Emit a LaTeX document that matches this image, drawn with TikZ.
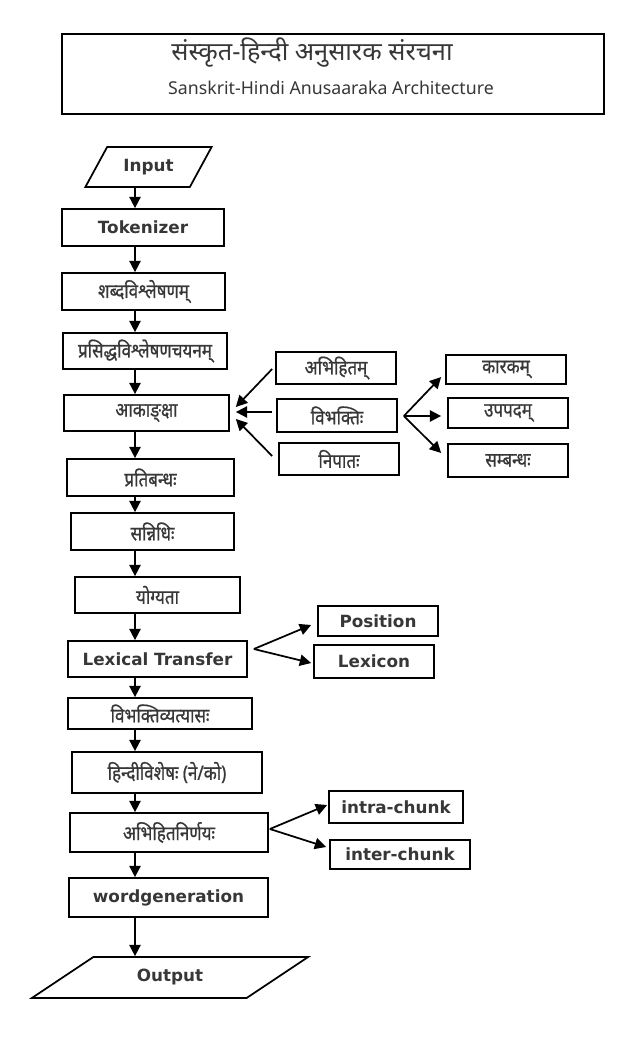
\documentclass[tikz,border=0pt]{standalone}
\usepackage{fontspec}
\setmainfont{DejaVu Sans}
\newfontfamily\dev[Script=Devanagari,FakeStretch=0.85,FakeBold=0.8]{Noto Sans}
\newfontfamily\devt[Script=Devanagari]{Noto Sans}
\newfontfamily\engt{Noto Sans}
\usetikzlibrary{arrows.meta,shapes.geometric,calc}
\definecolor{txt}{RGB}{55,55,55}
\begin{document}
\begin{tikzpicture}[x=0.75pt,y=-0.75pt,
  sz/.style 2 args={minimum width=#1*0.75pt,minimum height=#2*0.75pt},
  box/.style={draw=black,line width=1.3pt,rectangle,inner sep=0pt,text=txt,font=\bfseries\fontsize{12.6}{14}\selectfont},
  dbox/.style={box,font=\dev\fontsize{15}{17}\selectfont},
  para/.style={box,trapezium,trapezium stretches=true},
  arr/.style={line width=1.3pt,-{Triangle[length=8.5pt,width=8.5pt]}},
  ]
\useasboundingbox (0,0) rectangle (630,1044);
% title
\node[draw=black,line width=1.3pt,inner sep=0pt,sz={542}{80}] (title) at (333,74) {};
\node[text=txt,font=\devt\fontsize{19}{21}\selectfont,inner sep=0pt] (t1) at (312,53) {संस्कृत-हिन्दी अनुसारक संरचना};
\node[text=txt,font=\engt\fontsize{13.3}{15}\selectfont,inner sep=0pt] (t2) at (331,88) {Sanskrit-Hindi Anusaaraka Architecture};
% main column
\coordinate (col) at (135,0);
\node[para,trapezium left angle=50,trapezium right angle=130,sz={127}{40}] (in) at (148.5,167) {Input};
\node[box,sz={162}{37}] (tok) at (143,227.5) {Tokenizer};
\node[dbox,sz={163}{37}] (w1) at (143.5,291.5) {शब्दविश्लेषणम्};
\node[dbox,sz={164}{36}] (w2) at (145,351) {प्रसिद्धविश्लेषणचयनम्};
\node[dbox,sz={165}{36}] (ak) at (146.5,413) {आकाङ्क्षा};
\node[dbox,sz={167}{37}] (pr) at (150.5,477.5) {प्रतिबन्धः};
\node[dbox,sz={163}{37}] (sn) at (152.5,531.5) {सन्निधिः};
\node[dbox,sz={165}{36}] (yo) at (157.5,595) {योग्यता};
\node[box,sz={179}{36}] (lt) at (157.5,659) {Lexical Transfer};
\node[dbox,sz={184}{31}] (vv) at (160,713.5) {विभक्तिव्यत्यासः};
\node[dbox,sz={190}{41}] (hv) at (167,772.5) {हिन्दीविशेषः (ने/को)};
\node[dbox,sz={198}{39}] (an) at (169,832.5) {अभिहितनिर्णयः};
\node[box,sz={199}{39}] (wg) at (168.5,897.5) {wordgeneration};
\node[para,trapezium left angle=31,trapezium right angle=149,sz={278}{41}] (out) at (170,977.5) {Output};
% side boxes
\node[dbox,sz={120}{32}] (abh) at (336,368) {अभिहितम्};
\node[dbox,sz={120}{33}] (vib) at (337,415.5) {विभक्तिः};
\node[dbox,sz={120}{32}] (nip) at (339,459) {निपातः};
\node[dbox,sz={120}{29}] (kar) at (506,369.5) {कारकम्};
\node[dbox,sz={120}{30}] (upa) at (508,413) {उपपदम्};
\node[dbox,sz={120}{33}] (sam) at (508,460.5) {सम्बन्धः};
\node[box,sz={120}{30}] (pos) at (378,621) {Position};
\node[box,sz={120}{33}] (lex) at (374,661.5) {Lexicon};
\node[box,sz={134}{32}] (intra) at (396,807) {intra-chunk};
\node[box,sz={140}{29}] (inter) at (400,854.5) {inter-chunk};
% main arrows
\foreach \a/\b in {in/tok,tok/w1,w1/w2,w2/ak,ak/pr,pr/sn,sn/yo,yo/lt,lt/vv,vv/hv,hv/an,an/wg,wg/out}
  \draw[arr] (\a.south -| col) -- (\b.north -| col);
% into akanksha
\draw[arr] ($(abh.west)+(-3,1)$) -- ($(ak.east)+(6,-6)$);
\draw[arr] ($(vib.west)+(-4,-3.5)$) -- ($(ak.east)+(6,-1)$);
\draw[arr] ($(nip.west)+(-6,-3)$) -- ($(ak.east)+(6,6)$);
% from vibhakti
\coordinate (vr) at ($(vib.east)+(6,0.5)$);
\draw[arr] (vr) -- ($(kar.west)+(-4,7.5)$);
\draw[arr] (vr) -- ($(upa.west)+(-6,3)$);
\draw[arr] (vr) -- ($(sam.west)+(-6,-7.5)$);
% lexical transfer
\coordinate (lr) at ($(lt.east)+(6,-10)$);
\draw[arr] (lr) -- ($(pos.west)+(-6,4)$);
\draw[arr] (lr) -- ($(lex.west)+(-2,1.5)$);
% abhihita nirnaya
\coordinate (ar) at ($(an.east)+(1,-3.5)$);
\draw[arr] (ar) -- ($(intra.west)+(-1,-2)$);
\draw[arr] (ar) -- ($(inter.west)+(-3,-7.5)$);
\end{tikzpicture}
\end{document}
